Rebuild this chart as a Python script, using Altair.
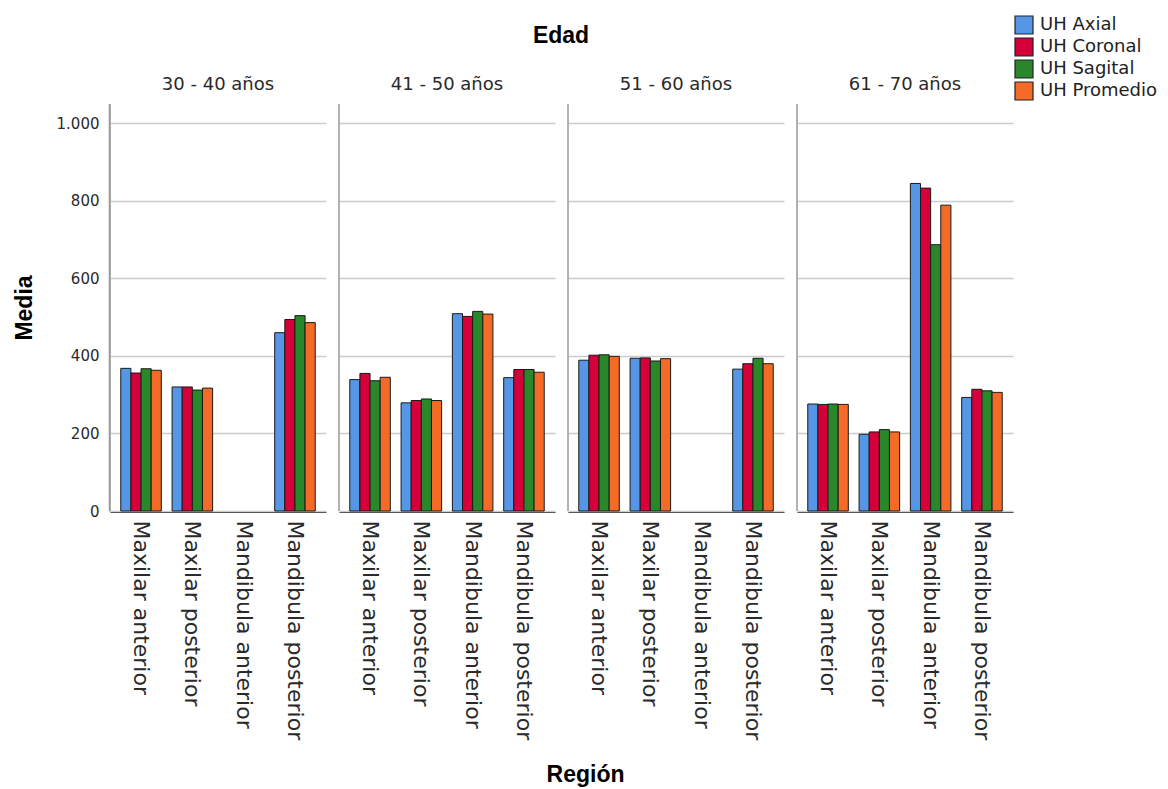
import altair as alt
import pandas as pd

edades = ["30 - 40 años", "41 - 50 años", "51 - 60 años", "61 - 70 años"]
regiones = ["Maxilar anterior", "Maxilar posterior", "Mandibula anterior", "Mandibula posterior"]
series = ["UH Axial", "UH Coronal", "UH Sagital", "UH Promedio"]
colores = ["#5597E4", "#D5003A", "#2A872A", "#F36B27"]

# [Axial, Coronal, Sagital, Promedio] per región; None = sin datos
edad_30_40 = [[368, 356, 367, 363], [320, 320, 312, 317], None, [460, 494, 504, 486]]
edad_41_50 = [[339, 355, 336, 345], [279, 285, 289, 285], [509, 502, 515, 508], [344, 365, 365, 358]]
edad_51_60 = [[389, 402, 403, 399], [394, 395, 387, 393], None, [366, 380, 394, 380]]
edad_61_70 = [[276, 275, 276, 275], [198, 204, 210, 204], [845, 833, 687, 789], [293, 314, 310, 306]]

tabla = [edad_30_40, edad_41_50, edad_51_60, edad_61_70]
rows = []
for e, vals in zip(edades, tabla):
    for r, v in zip(regiones, vals):
        if v is None:
            continue
        for s, m in zip(series, v):
            rows.append({"Edad": e, "Región": r, "Serie": s, "Media": m})
df = pd.DataFrame(rows)

FONT = "DejaVu Sans"
BFONT = "Liberation Sans"
H = 407
W = 216

bars = alt.Chart(df).mark_bar(stroke="#1a1a1a", strokeWidth=1).encode(
    x=alt.X("Región:N", sort=regiones, scale=alt.Scale(domain=regiones, paddingInner=0.21, paddingOuter=0.21),
            axis=alt.Axis(title=None, labelAngle=90, labelFontSize=22, labelColor="#2a2a2a",
                          labelFont=FONT, ticks=False, domainColor="#333333", domainWidth=1.2,
                          labelPadding=8, labelLimit=300)),
    xOffset=alt.XOffset("Serie:N", sort=series, scale=alt.Scale(paddingInner=0, paddingOuter=0)),
    y=alt.Y("Media:Q", scale=alt.Scale(domain=[0, 1050], nice=False),
            axis=alt.Axis(title="Media", values=[0, 200, 400, 600, 800, 1000],
                          labelExpr="replace(format(datum.value, ',d'), ',', '.')",
                          labelFontSize=15, labelColor="#2a2a2a", labelFont=FONT, ticks=False,
                          labelPadding=10, domainColor="#999999", domainWidth=1.5,
                          gridColor="#cccccc", gridWidth=1.5,
                          titleFontSize=23, titleFont=BFONT, titleFontWeight="bold", titleColor="#000000",
                          titlePadding=20)),
    color=alt.Color("Serie:N", sort=series, scale=alt.Scale(domain=series, range=colores),
                    legend=alt.Legend(title=None, orient="none", legendX=904, legendY=-90, offset=0,
                                      symbolType="square", symbolSize=324, symbolStrokeColor="#222222",
                                      symbolStrokeWidth=1.2, labelFontSize=18, labelFont=FONT,
                                      labelColor="#222222", rowPadding=0, clipHeight=22, labelOffset=6)),
)

leftline = alt.Chart(df).transform_aggregate(n="count()", groupby=["Edad"]).mark_rule(
    color="#999999", strokeWidth=1.5).encode(x=alt.value(0), y=alt.value(0), y2=alt.value(H))

chart = alt.layer(leftline, bars).properties(width=W, height=H).facet(
    column=alt.Column("Edad:N", sort=edades,
                      header=alt.Header(title="Edad", titleFontSize=23, titleFont=BFONT, titleFontWeight="bold",
                                        titleColor="#000000", titlePadding=18, labelFontSize=18, labelFont=FONT,
                                        labelColor="#2a2a2a", labelPadding=9)),
    spacing=12,
).properties(
    title=alt.TitleParams("Región", orient="bottom", fontSize=23, font=BFONT, fontWeight="bold",
                          color="#000000", anchor="middle", offset=24),
    padding={"left": 5, "top": 6, "right": 0, "bottom": 0},
).configure_view(stroke=None).configure_axis(grid=True).configure_axisX(grid=False)

chart.save("out.html", embed_options={"renderer": "svg", "actions": False})
